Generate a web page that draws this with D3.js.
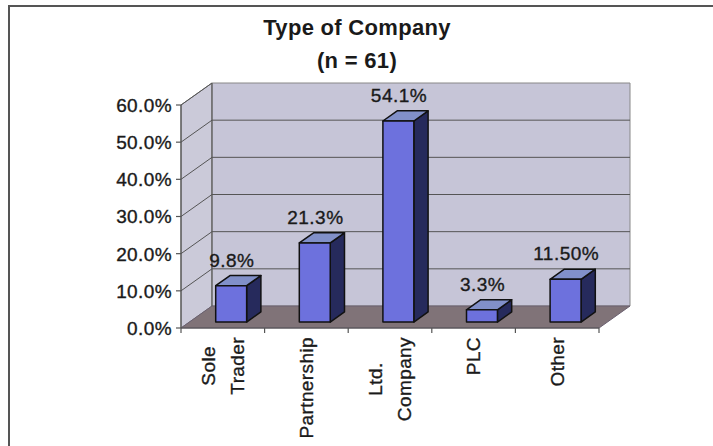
<!DOCTYPE html>
<html lang="en">
<head>
    <meta charset="UTF-8">
    <title>Type of Company</title>
    <script src="https://d3js.org/d3.v7.min.js"></script>
    <style>
        body{
            margin: 0;
            background: #fff;
        }
        svg text{
            font-family: "Liberation Sans", Arial, sans-serif;
            fill: #1a1a1a;
        }
        svg text.thick{
            stroke: #1a1a1a;
            stroke-width: 0.35px;
        }
    </style>
</head>
<body>
    <div id="chart"></div>

    <script>
        // chart data
        const categories = ["Sole Trader", "Partnership", "Ltd. Company", "PLC", "Other"];
        const categoryLines = [["Sole", "Trader"], ["Partnership"], ["Ltd.", "Company"], ["PLC"], ["Other"]];
        const values = [9.8, 21.3, 54.1, 3.3, 11.5];
        const valueLabels = ["9.8%", "21.3%", "54.1%", "3.3%", "11.50%"];
        const yTicks = [0, 10, 20, 30, 40, 50, 60];
        const yTickLabels = ["0.0%", "10.0%", "20.0%", "30.0%", "40.0%", "50.0%", "60.0%"];

        const width = 713;
        const height = 446;

        // 3d depth of the walls
        const depthX = 31;
        const depthY = -22;
        const barFront = 0.27;
        const barBack = 0.73;

        const svg = d3.select("#chart")
            .append("svg")
            .attr("width", width)
            .attr("height", height);

        // outer frame
        svg.append("rect")
            .attr("x", 9)
            .attr("y", 6)
            .attr("width", 730)
            .attr("height", 470)
            .attr("fill", "#fff")
            .attr("stroke", "#555")
            .attr("stroke-width", 2);

        // title
        svg.append("text")
            .attr("x", 357)
            .attr("y", 35)
            .attr("text-anchor", "middle")
            .style("font-size", "22px")
            .style("font-weight", "bold")
            .style("letter-spacing", "0.3px")
            .text("Type of Company");
        svg.append("text")
            .attr("x", 357)
            .attr("y", 68)
            .attr("text-anchor", "middle")
            .style("font-size", "22px")
            .style("font-weight", "bold")
            .style("letter-spacing", "0.3px")
            .text("(n = 61)");

        const x = d3.scaleBand()
            .domain(categories)
            .range([181, 599]);

        const y = d3.scaleLinear()
            .domain([0, 60])
            .range([328, 105]);

        // project a front point back by a fraction of the depth
        const p = (px, py, f) => [px + f * depthX, py + f * depthY];
        const poly = pts => pts.map(d => d.join(",")).join(" ");

        const x0 = x.range()[0], x1 = x.range()[1];
        const yb = y(0), yt = y(60);

        // side wall
        svg.append("polygon")
            .attr("points", poly([[x0, yb], [x0, yt], p(x0, yt, 1), p(x0, yb, 1)]))
            .attr("fill", "#cbcad9")
            .attr("stroke", "#777")
            .attr("stroke-width", 1);

        // back wall
        svg.append("polygon")
            .attr("points", poly([p(x0, yt, 1), p(x1, yt, 1), p(x1, yb, 1), p(x0, yb, 1)]))
            .attr("fill", "#c6c5d7")
            .attr("stroke", "#888")
            .attr("stroke-width", 1);

        // floor
        svg.append("polygon")
            .attr("points", poly([[x0, yb], [x1, yb], p(x1, yb, 1), p(x0, yb, 1)]))
            .attr("fill", "#807378")
            .attr("stroke", "#6a6070")
            .attr("stroke-width", 1);

        // gridlines on the walls
        const grid = svg.append("g").attr("stroke", "#555").attr("stroke-width", 1);
        yTicks.slice(1).forEach(t => {
            const a = p(x0, y(t), 1);
            const b = p(x1, y(t), 1);
            grid.append("line")
                .attr("x1", x0).attr("y1", y(t))
                .attr("x2", a[0]).attr("y2", a[1]);
            if (t < 60) {
                grid.append("line")
                    .attr("x1", a[0]).attr("y1", a[1])
                    .attr("x2", b[0]).attr("y2", b[1]);
            }
        });
        grid.append("line")
            .attr("x1", x0 + depthX).attr("y1", yt + depthY)
            .attr("x2", x0 + depthX).attr("y2", yb + depthY);

        // bars
        const bw = x.bandwidth() * 0.37;
        const bars = svg.selectAll(".bar")
            .data(values)
            .enter().append("g")
            .attr("class", "bar")
            .attr("stroke", "#111")
            .attr("stroke-width", 1.5)
            .attr("stroke-linejoin", "round");

        bars.each(function(v, i) {
            const g = d3.select(this);
            const cx = x(categories[i]) + x.bandwidth() / 2;
            const l = cx - bw / 2, r = cx + bw / 2;
            const top = y(v);
            const fl = p(l, yb, barFront), fr = p(r, yb, barFront);
            const ftl = p(l, top, barFront), ftr = p(r, top, barFront);
            const bbr = p(r, yb, barBack), btr = p(r, top, barBack), btl = p(l, top, barBack);

            // side face
            g.append("polygon")
                .attr("points", poly([fr, ftr, btr, bbr]))
                .attr("fill", "#262a5c");
            // top face
            g.append("polygon")
                .attr("points", poly([ftl, ftr, btr, btl]))
                .attr("fill", "#8190c9");
            // front face
            g.append("polygon")
                .attr("points", poly([fl, ftl, ftr, fr]))
                .attr("fill", "#6d71dd");

            const lp = p(cx, top, barBack);
            svg.append("text")
                .attr("class", "thick")
                .attr("x", cx + 9)
                .attr("y", lp[1] - 9)
                .attr("text-anchor", "middle")
                .style("font-size", "19px")
                .style("letter-spacing", "0.5px")
                .text(valueLabels[i]);
        });

        // y axis
        const axis = svg.append("g").attr("stroke", "#555").attr("stroke-width", 1.2);
        axis.append("line")
            .attr("x1", x0).attr("y1", yt)
            .attr("x2", x0).attr("y2", yb);
        axis.append("line")
            .attr("x1", x0).attr("y1", yb)
            .attr("x2", x1).attr("y2", yb);
        yTicks.forEach(t => {
            axis.append("line")
                .attr("x1", x0 - 5).attr("y1", y(t))
                .attr("x2", x0).attr("y2", y(t));
        });
        categories.forEach(c => {
            axis.append("line")
                .attr("x1", x(c)).attr("y1", yb)
                .attr("x2", x(c)).attr("y2", yb + 5);
        });
        axis.append("line")
            .attr("x1", x1).attr("y1", yb)
            .attr("x2", x1).attr("y2", yb + 5);

        svg.selectAll(".ytick")
            .data(yTicks)
            .enter().append("text")
            .attr("class", "ytick thick")
            .attr("x", 172)
            .attr("y", d => y(d))
            .attr("dy", "0.36em")
            .attr("text-anchor", "end")
            .style("font-size", "19px")
            .style("letter-spacing", "0.4px")
            .text((d, i) => yTickLabels[i]);

        // rotated category labels
        categoryLines.forEach((lines, i) => {
            const cx = x(categories[i]) + x.bandwidth() / 2;
            const g = svg.append("g")
                .attr("transform", `translate(${cx},337) rotate(-90)`);
            lines.forEach((s, j) => {
                g.append("text")
                    .attr("class", "cat thick")
                    .attr("x", 0)
                    .attr("y", (j - (lines.length - 1) / 2) * 29)
                    .attr("dy", "0.36em")
                    .attr("text-anchor", "end")
                    .style("font-size", "19px")
                    .style("letter-spacing", "0.4px")
                    .text(s);
            });
        });

        // center shorter lines against the longest one
        svg.selectAll("g").each(function() {
            const texts = d3.select(this).selectAll("text.cat");
            if (texts.size() < 2) return;
            const lens = texts.nodes().map(n => n.getComputedTextLength());
            const maxLen = d3.max(lens);
            texts.attr("x", (d, k) => -(maxLen - lens[k]) / 2);
        });
    </script>
</body>
</html>
